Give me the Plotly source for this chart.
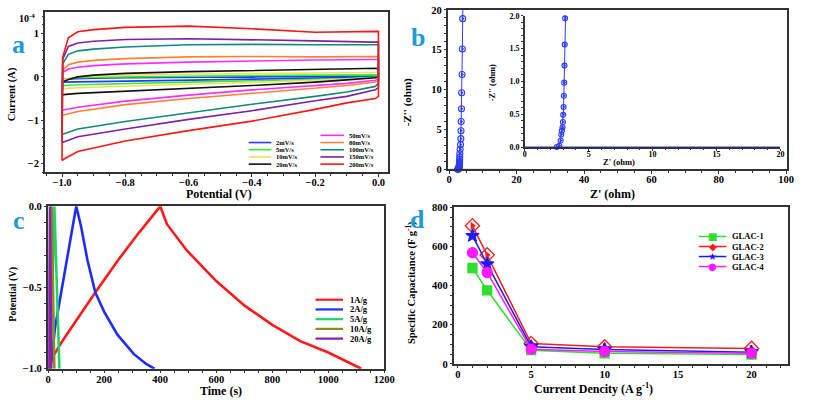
import plotly.graph_objects as go

W, H = 813, 402
SERIF = "Liberation Serif"

# ---------------- panel a : cyclic voltammetry (current in 1e-4 A) ----------------
v_forward = [-1.0, -0.998, -0.98, -0.95, -0.9, -0.8, -0.6, -0.4, -0.2, -0.02, 0.0]
v_reverse = [0.0, -0.01, -0.1, -0.2, -0.4, -0.6, -0.8, -0.95, -0.995, -1.0]
scan_rates = ["2mV/s", "5mV/s", "10mV/s", "20mV/s", "50mV/s",
              "80mV/s", "100mV/s", "150mV/s", "200mV/s"]
cv_colors = ["#1f3dff", "#33ee33", "#f3df5a", "#111111", "#ff2bff",
             "#ff8033", "#13897c", "#7b22a8", "#ff1515"]
i_fwd_2 = [-0.12, -0.06, -0.05, -0.04, -0.03, -0.02, -0.01, 0.0, 0.01, 0.02, 0.02]
i_rev_2 = [0.0, -0.01, -0.02, -0.03, -0.05, -0.07, -0.09, -0.1, -0.12, -0.12]
i_fwd_5 = [-0.2, -0.07, -0.04, -0.02, -0.01, 0.0, 0.02, 0.03, 0.04, 0.05, 0.05]
i_rev_5 = [0.0, -0.01, -0.04, -0.06, -0.09, -0.12, -0.15, -0.18, -0.2, -0.2]
i_fwd_10 = [-0.28, -0.08, -0.04, 0.0, 0.02, 0.04, 0.06, 0.08, 0.09, 0.1, 0.1]
i_rev_10 = [0.0, -0.02, -0.05, -0.08, -0.13, -0.17, -0.21, -0.25, -0.27, -0.28]
i_fwd_20 = [-0.42, -0.12, -0.06, 0.0, 0.04, 0.08, 0.12, 0.15, 0.17, 0.19, 0.2]
i_rev_20 = [0.0, -0.02, -0.07, -0.12, -0.2, -0.26, -0.32, -0.38, -0.41, -0.42]
i_fwd_50 = [-0.77, 0.1, 0.18, 0.22, 0.26, 0.3, 0.34, 0.37, 0.39, 0.4, 0.4]
i_rev_50 = [-0.05, -0.08, -0.15, -0.2, -0.3, -0.42, -0.56, -0.7, -0.76, -0.77]
i_fwd_80 = [-0.9, 0.15, 0.28, 0.34, 0.38, 0.42, 0.46, 0.47, 0.46, 0.46, 0.47]
i_rev_80 = [-0.08, -0.12, -0.2, -0.26, -0.38, -0.5, -0.64, -0.8, -0.88, -0.9]
i_fwd_100 = [-1.33, 0.3, 0.52, 0.6, 0.64, 0.69, 0.74, 0.75, 0.74, 0.73, 0.74]
i_rev_100 = [-0.15, -0.22, -0.35, -0.45, -0.63, -0.83, -1.03, -1.2, -1.31, -1.33]
i_fwd_150 = [-1.52, 0.4, 0.7, 0.78, 0.82, 0.86, 0.88, 0.86, 0.83, 0.8, 0.8]
i_rev_150 = [-0.25, -0.3, -0.45, -0.55, -0.78, -0.98, -1.2, -1.38, -1.5, -1.52]
i_fwd_200 = [-1.93, 0.45, 0.9, 1.04, 1.09, 1.14, 1.17, 1.11, 1.03, 1.04, 1.05]
i_rev_200 = [-0.45, -0.5, -0.6, -0.75, -1.02, -1.24, -1.48, -1.72, -1.9, -1.93]
cv_forward = [i_fwd_2, i_fwd_5, i_fwd_10, i_fwd_20, i_fwd_50, i_fwd_80, i_fwd_100, i_fwd_150, i_fwd_200]
cv_reverse = [i_rev_2, i_rev_5, i_rev_10, i_rev_20, i_rev_50, i_rev_80, i_rev_100, i_rev_150, i_rev_200]

# ---------------- panel b : Nyquist ----------------
z_real = [2.5, 2.7, 2.8, 2.85, 2.9, 2.95, 2.98, 3.0, 3.03, 3.05, 3.08, 3.1, 3.12, 3.15,
          3.25, 3.35, 3.45, 3.5, 3.55, 3.65, 3.7, 3.8, 3.9, 4.0]
z_imag = [0.0, 0.02, 0.1, 0.19, 0.25, 0.3, 0.38, 0.49, 0.61, 0.78, 0.98, 1.24, 1.56, 1.96,
          2.5, 3.1, 3.85, 4.85, 6.0, 7.6, 9.6, 11.9, 15.1, 18.9]
z_tail_real = [4.0, 4.15]
z_tail_imag = [18.9, 23.0]
z_base_real = [0.0, 20.0]
z_base_imag = [0.0, 0.0]

# ---------------- panel c : GCD ----------------
gcd_labels = ["1A/g", "2A/g", "5A/g", "10A/g", "20A/g"]
gcd_colors = ["#ff1a1a", "#1f2bff", "#22d36a", "#8c8c1e", "#8a1fb0"]
t_1 = [5, 15, 50, 100, 168, 250, 325, 400, 424, 494, 600, 700, 800, 900, 1000, 1118]
p_1 = [-1.0, -0.93, -0.83, -0.7, -0.53, -0.33, -0.16, 0.0, -0.11, -0.27, -0.46, -0.61,
       -0.73, -0.83, -0.9, -1.0]
t_2 = [5, 15, 24, 50, 71, 100, 110, 118, 140, 168, 200, 247, 306, 350, 380]
p_2 = [-1.0, -0.9, -0.75, -0.5, -0.3, 0.0, -0.07, -0.13, -0.33, -0.53, -0.65, -0.79,
       -0.91, -0.97, -1.0]
t_5 = [8, 22, 40]
p_5 = [-1.0, 0.0, -1.0]
t_10 = [5, 12, 22]
p_10 = [-1.0, 0.0, -1.0]
t_20 = [2, 6, 11]
p_20 = [-1.0, 0.0, -1.0]
gcd_t = [t_1, t_2, t_5, t_10, t_20]
gcd_p = [p_1, p_2, p_5, p_10, p_20]

# ---------------- panel d : specific capacitance ----------------
current_density = [1, 2, 5, 10, 20]
glac_names = ["GLAC-1", "GLAC-2", "GLAC-3", "GLAC-4"]
glac_colors = ["#2ee02e", "#ff1a1a", "#1a1aff", "#ff1aff"]
glac_1 = [490, 376, 70, 54, 48]
glac_2 = [706, 557, 104, 87, 79]
glac_3 = [655, 510, 88, 74, 60]
glac_4 = [568, 467, 75, 63, 54]
glac_values = [glac_1, glac_2, glac_3, glac_4]

# ---------------- figure ----------------
fig = go.Figure()

for name, col, fwd, rev in zip(scan_rates, cv_colors, cv_forward, cv_reverse):
    fig.add_trace(go.Scatter(x=v_forward + v_reverse, y=fwd + rev, mode="lines",
                             line=dict(color=col, width=1.6), name=name,
                             showlegend=False, xaxis="x", yaxis="y"))

bcol = "#2b3cff"
for xa, ya in (("x2", "y2"), ("x3", "y3")):
    fig.add_trace(go.Scatter(x=z_base_real, y=z_base_imag, mode="lines",
                             line=dict(color=bcol, width=1), showlegend=False,
                             xaxis=xa, yaxis=ya, cliponaxis=False))
    fig.add_trace(go.Scatter(x=z_tail_real, y=z_tail_imag, mode="lines",
                             line=dict(color=bcol, width=1), showlegend=False,
                             xaxis=xa, yaxis=ya))
    fig.add_trace(go.Scatter(x=z_real, y=z_imag, mode="lines+markers",
                             line=dict(color=bcol, width=1),
                             marker=dict(symbol="circle-open", size=6 if xa == "x2" else 5,
                                         color=bcol, line=dict(width=1.1)),
                             showlegend=False, xaxis=xa, yaxis=ya, cliponaxis=False))
    fig.add_trace(go.Scatter(x=z_real, y=z_imag, mode="markers",
                             marker=dict(symbol="triangle-right", size=4, color=bcol),
                             showlegend=False, xaxis=xa, yaxis=ya, cliponaxis=False))

for name, col, t, p in zip(gcd_labels, gcd_colors, gcd_t, gcd_p):
    fig.add_trace(go.Scatter(x=t, y=p, mode="lines", line=dict(color=col, width=2.6),
                             name=name, showlegend=False, xaxis="x4", yaxis="y4"))

glac_symbols = ["square", "diamond-open", "star", "circle"]
glac_sizes = [9, 11, 10, 10]
for name, col, vals, sym, sz in zip(glac_names, glac_colors, glac_values, glac_symbols, glac_sizes):
    fig.add_trace(go.Scatter(x=current_density, y=vals, mode="lines+markers",
                             line=dict(color=col, width=1.5),
                             marker=dict(symbol=sym, size=sz, color=col,
                                         line=dict(color=col, width=1.3)),
                             name=name, showlegend=False, xaxis="x5", yaxis="y5",
                             cliponaxis=False))
    if sym == "diamond-open":
        fig.add_trace(go.Scatter(x=current_density, y=vals, mode="markers",
                                 marker=dict(symbol="triangle-right", size=7, color=col),
                                 showlegend=False, xaxis="x5", yaxis="y5", cliponaxis=False))


def dom(a, b, total):
    return [a / total, b / total]


def ydom(top, bottom):
    return [1 - bottom / H, 1 - top / H]


tickfont = dict(family=SERIF, size=10.5, color="black", weight="bold")
small_font = dict(family=SERIF, size=8, color="black", weight="bold")
base = dict(showline=True, linecolor="#333", linewidth=1.5, mirror=True, ticks="outside",
            ticklen=2.5, tickwidth=1.2, tickcolor="#333", showgrid=False, zeroline=False,
            tickfont=tickfont,
            minor=dict(ticks="outside", ticklen=2, tickcolor="#333"))
xbase = dict(base, ticklabelstandoff=-3)

fig.update_layout(
    width=W, height=H, margin=dict(l=0, r=0, t=0, b=0),
    paper_bgcolor="white", plot_bgcolor="white", showlegend=False,
    xaxis=dict(xbase, domain=dom(43, 392, W), range=[-1.053, 0.031], dtick=0.2,
               tick0=-1.0, tickformat=".1f", anchor="y"),
    yaxis=dict(base, domain=ydom(7, 172), range=[-2.2, 1.5], tickvals=[-2, -1, 0, 1],
               anchor="x"),
    xaxis2=dict(xbase, domain=dom(453, 798, W), range=[-0.3, 100.3], dtick=20,
                anchor="y2"),
    yaxis2=dict(base, domain=ydom(5, 169), range=[0, 20], dtick=5, anchor="x2"),
    xaxis3=dict(xbase, domain=dom(531, 791, W), range=[0, 20], dtick=5, mirror=False,
                anchor="y3", tickfont=small_font, ticklen=2,
                minor=dict(ticks="outside", ticklen=1.5, tickcolor="#333")),
    yaxis3=dict(base, domain=ydom(11, 146), range=[0, 2.0], dtick=0.5, tickformat=".1f",
                mirror=False, anchor="x3", tickfont=small_font, ticklen=2),
    xaxis4=dict(xbase, domain=dom(46, 388, W), range=[0, 1200], dtick=200, anchor="y4"),
    yaxis4=dict(base, domain=ydom(207, 374), range=[-1.0, 0.0], dtick=0.5,
                tickformat=".1f", anchor="x4"),
    xaxis5=dict(xbase, domain=dom(459, 799, W), range=[-0.25, 22.5], dtick=5,
                anchor="y5"),
    yaxis5=dict(base, domain=ydom(208, 369), range=[0, 800], dtick=200, anchor="x5"),
)

annotations = []
shapes = []


def label(text, x, y, size=12, angle=0, color="black", family=SERIF, xanchor="center"):
    annotations.append(dict(text=text, x=x / W, y=1 - y / H, xref="paper", yref="paper",
                            showarrow=False, textangle=angle, xanchor=xanchor,
                            yanchor="middle",
                            font=dict(family=family, size=size, color=color,
                                      weight="bold")))


# axis titles
label("Potential (V)", 220, 194.5, 12)
label("Current (A)", 10, 92, 10.5, -90)
label("10<sup>-4</sup>", 24, 13, 10)
label("Z' (ohm)", 620, 194.5, 12)
label("-Z'' (ohm)", 411, 100, 11, -90)
label("Z' (ohm)", 627, 161, 8.5)
label("-Z'' (ohm)", 497, 80, 8.5, -90)
label("Time (s)", 222, 396.5, 12)
label("Potential (V)", 10, 297, 10, -90)
label("Current Dencity (A g<sup>-1</sup>)", 601, 394.5, 12)
label("Specific Capacitance (F g<sup>-1</sup>)", 415, 285, 10.5, -90)

# panel letters
letter_col = "#1e9bd7"
label("a", 16, 41, 26, color=letter_col)
label("b", 422, 33, 26, color=letter_col)
label("c", 16, 222, 26, color=letter_col)
label("d", 422, 221, 26, color=letter_col)


def legend(names, colors, x0, x1, xt, y0, dy, size, lw, symbols=None):
    for i, (n, c) in enumerate(zip(names, colors)):
        y = y0 + i * dy
        shapes.append(dict(type="line", xref="paper", yref="paper", x0=x0 / W, x1=x1 / W,
                           y0=1 - y / H, y1=1 - y / H, line=dict(color=c, width=lw)))
        label(n, xt, y, size, xanchor="left")
        if symbols:
            annotations.append(dict(text=symbols[i], x=(x0 + x1) / 2 / W, y=1 - y / H,
                                    xref="paper", yref="paper", showarrow=False,
                                    xanchor="center", yanchor="middle",
                                    font=dict(family="DejaVu Sans", size=10, color=c)))


legend(scan_rates[:4], cv_colors[:4], 250, 273, 276, 141.4, 7.4, 6.5, 1.6)
legend(scan_rates[4:], cv_colors[4:], 323, 347, 350, 134, 7.4, 6.5, 1.6)
legend(gcd_labels, gcd_colors, 318, 346, 351, 303, 10, 8.5, 2.2)
legend(glac_names, glac_colors, 708, 736, 740, 238, 10.3, 8.5, 1.5,
       symbols=["■", "◆", "★", "●"])

fig.update_layout(annotations=annotations, shapes=shapes)
fig.write_html("out.html")
